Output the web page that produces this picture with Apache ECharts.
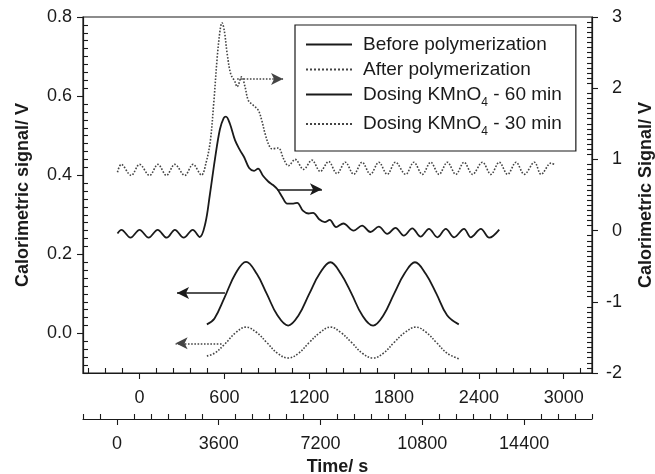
<!DOCTYPE html>
<html><head><meta charset="utf-8">
<script src="https://cdn.jsdelivr.net/npm/echarts@6/dist/echarts.min.js"></script>
<style>html,body{margin:0;padding:0;background:#fff}#c{width:655px;height:474px}</style>
</head><body><div id="c"></div>
<script>
const seriesNames = ['Before polymerization', 'After polymerization', 'Dosing KMnO4 - 60 min', 'Dosing KMnO4 - 30 min'];
const topTickLabels = [0, 600, 1200, 1800, 2400, 3000];
const bottomTickLabels = [0, 3600, 7200, 10800, 14400];
const leftTickLabels = [0, 0.2, 0.4, 0.6, 0.8];
const rightTickLabels = [-2, -1, 0, 1, 2, 3];

// right axis (Calorimetric Signal / V)
const beforePolymerization = [
  [-156, -0.04], [-128, 0.01], [-64, -0.10], [0, 0.01], [64, -0.10], [128, 0.01], [192, -0.10],
  [250, 0.01], [312, -0.10], [376, 0.01], [426, -0.09], [465, 0.10], [497, 0.50], [533, 1.00],
  [568, 1.42], [595, 1.58], [611, 1.60], [639, 1.50], [675, 1.27], [710, 1.13], [740, 1.03],
  [775, 0.88], [810, 0.84], [838, 0.87], [873, 0.77], [910, 0.69], [944, 0.64], [975, 0.58],
  [1010, 0.47], [1044, 0.38], [1087, 0.38], [1115, 0.39], [1155, 0.28], [1195, 0.24], [1228, 0.25],
  [1270, 0.16], [1310, 0.12], [1345, 0.15], [1390, 0.05], [1441, 0.10], [1514, 0.00], [1574, 0.07],
  [1633, -0.02], [1692, 0.056], [1752, -0.046], [1810, 0.038], [1869, -0.07], [1929, 0.032],
  [1988, -0.085], [2047, 0.024], [2107, -0.094], [2166, 0.024], [2224, -0.094], [2295, 0.024],
  [2343, -0.094], [2414, 0.024], [2473, -0.10], [2544, 0.014]
];
const afterPolymerization = [
  [-156, 0.82], [-130, 0.93], [-59, 0.775], [0, 0.93], [71, 0.775], [130, 0.93], [190, 0.775],
  [249, 0.93], [320, 0.775], [378, 0.93], [438, 0.78], [470, 0.95], [500, 1.25], [525, 1.80],
  [550, 2.45], [570, 2.82], [583, 2.92], [600, 2.80], [620, 2.48], [645, 2.20], [675, 2.09],
  [690, 2.02], [722, 2.16], [746, 2.02], [769, 1.83], [804, 1.76], [840, 1.69], [864, 1.55],
  [888, 1.36], [911, 1.22], [935, 1.15], [982, 1.16], [1018, 1.01], [1053, 0.91], [1100, 1.00],
  [1160, 0.86], [1219, 0.99], [1278, 0.83], [1337, 0.97], [1396, 0.80], [1455, 0.96], [1515, 0.79],
  [1574, 0.96], [1633, 0.79], [1692, 0.96], [1752, 0.79], [1810, 0.96], [1882, 0.79], [1940, 0.96],
  [2000, 0.79], [2059, 0.96], [2118, 0.79], [2177, 0.96], [2237, 0.79], [2295, 0.96], [2355, 0.79],
  [2425, 0.96], [2485, 0.79], [2544, 0.96], [2603, 0.79], [2663, 0.96], [2721, 0.79], [2793, 0.96],
  [2840, 0.79], [2911, 0.95], [2932, 0.93]
];
// left axis (Calorimetric signal / V)
const dosing60 = [
  [476, 0.023], [530, 0.038], [600, 0.090], [680, 0.152], [753, 0.181], [830, 0.150], [900, 0.100],
  [975, 0.046], [1051, 0.020], [1125, 0.046], [1200, 0.100], [1275, 0.152], [1350, 0.180],
  [1425, 0.150], [1500, 0.100], [1575, 0.046], [1652, 0.020], [1725, 0.046], [1800, 0.100],
  [1875, 0.152], [1948, 0.180], [2025, 0.150], [2100, 0.100], [2175, 0.046], [2258, 0.023]
];
const dosing30 = [
  [476, -0.057], [530, -0.050], [600, -0.028], [680, 0.002], [753, 0.016], [830, 0.002], [900, -0.023],
  [975, -0.050], [1051, -0.062], [1125, -0.050], [1200, -0.023], [1275, 0.002], [1350, 0.016],
  [1425, 0.002], [1500, -0.023], [1575, -0.050], [1652, -0.062], [1725, -0.050], [1800, -0.023],
  [1875, 0.002], [1955, 0.016], [2030, 0.002], [2100, -0.023], [2175, -0.050], [2258, -0.064]
];
// annotation arrows: [start, end]
const arrowBefore = [[975, 0.58], [1290, 0.58]];
const arrowAfter = [[690, 2.13], [1015, 2.13]];
const arrow60 = [[604, 0.102], [265, 0.102]];
const arrow30 = [[580, -0.025], [255, -0.025]];

const FONT = 'Liberation Sans, Arial, Helvetica, sans-serif';
const INK = '#1a1a1a';

function minorTicks(iFrom, iTo, step, div, every) {
  const out = [];
  for (let i = iFrom; i <= iTo; i++) { if (i % every !== 0) out.push(i * step / div); }
  return out;
}
const topMinor = minorTicks(-3, 26, 120, 1, 5);
const bottomMinor = minorTicks(-2, 28, 600, 1, 6);
const leftMinor = minorTicks(-5, 40, 2, 100, 10);
const rightMinor = minorTicks(-28, 42, 1, 14, 14);

const lineAxis = { show: true, onZero: false, lineStyle: { color: INK, width: 1.2 } };
const tickStyle = { color: INK, width: 1.1 };
const labelBase = { fontSize: 18, color: INK, fontFamily: FONT };

function majorX(min, max, ticks, offset, extra) {
  return Object.assign({
    type: 'value', min: min, max: max, position: 'bottom', offset: offset,
    axisLine: lineAxis, splitLine: { show: false },
    axisTick: { show: true, customValues: ticks, length: 6, lineStyle: tickStyle },
    axisLabel: Object.assign({ customValues: ticks, margin: 16, formatter: v => String(v) }, labelBase)
  }, extra || {});
}
function minorX(min, max, ticks, offset) {
  return {
    type: 'value', min: min, max: max, position: 'bottom', offset: offset,
    axisLine: { show: false, onZero: false }, splitLine: { show: false },
    axisTick: { show: true, inside: true, customValues: ticks, length: 5, lineStyle: tickStyle },
    axisLabel: { show: false }
  };
}
function minorY(min, max, ticks, pos) {
  return {
    type: 'value', min: min, max: max, position: pos,
    axisLine: { show: false, onZero: false }, splitLine: { show: false },
    axisTick: { show: true, inside: true, customValues: ticks, length: 5, lineStyle: tickStyle },
    axisLabel: { show: false }
  };
}
function arrowLine(pts, type) {
  return {
    silent: true, animation: false, symbol: ['none', 'arrow'], symbolSize: [9, 12],
    label: { show: false },
    lineStyle: { color: type === 'dotted' ? '#444' : INK, width: 1.6, type: type },
    itemStyle: { color: type === 'dotted' ? '#555' : INK },
    data: [[{ coord: pts[0] }, { coord: pts[1] }]]
  };
}

const chart = echarts.init(document.getElementById('c'), null, { renderer: 'canvas' });
chart.setOption({
  animation: false,
  backgroundColor: '#fff',
  grid: { left: 83, top: 17, width: 509, height: 356, show: true, borderColor: INK, borderWidth: 1.2,
    backgroundColor: 'transparent', containLabel: false, outerBoundsMode: 'none' },
  legend: {
    data: seriesNames, orient: 'vertical', left: 295, top: 25,
    padding: [10, 14, 13, 10], borderColor: INK, borderWidth: 1.2,
    itemWidth: 46, itemHeight: 12, itemGap: 6,
    itemStyle: { opacity: 0 },
    formatter: n => n.replace('KMnO4', 'KMnO{sub|4}'),
    textStyle: {
      fontSize: 19, color: INK, fontFamily: FONT, padding: [0, 0, 0, 6],
      rich: { sub: { fontSize: 12, fontFamily: FONT, color: INK, padding: [16, 0, 0, 0] } }
    }
  },
  xAxis: [
    majorX(-400, 3200, topTickLabels, 0),
    minorX(-400, 3200, topMinor, 0),
    majorX(-1200, 16800, bottomTickLabels, 46, {
      name: 'Time/ s', nameLocation: 'middle', nameGap: 38,
      nameTextStyle: { fontSize: 18, fontWeight: 'bold', color: INK, fontFamily: FONT }
    }),
    minorX(-1200, 16800, bottomMinor, 46)
  ],
  yAxis: [
    {
      type: 'value', min: -0.1, max: 0.8, position: 'left',
      axisLine: lineAxis, splitLine: { show: false },
      axisTick: { show: true, customValues: leftTickLabels, length: 6, lineStyle: tickStyle },
      axisLabel: Object.assign({ customValues: leftTickLabels, margin: 11, formatter: v => v.toFixed(1) }, labelBase),
      name: 'Calorimetric signal/ V', nameLocation: 'middle', nameGap: 51, nameRotate: 90,
      nameTextStyle: { fontSize: 18, fontWeight: 'bold', color: INK, fontFamily: FONT }
    },
    minorY(-0.1, 0.8, leftMinor, 'left'),
    {
      type: 'value', min: -2, max: 3, position: 'right',
      axisLine: lineAxis, splitLine: { show: false },
      axisTick: { show: true, customValues: rightTickLabels, length: 6, lineStyle: tickStyle },
      axisLabel: Object.assign({ customValues: rightTickLabels, margin: 30, align: 'right', formatter: v => String(v) }, labelBase),
      name: 'Calorimetric Signal/ V', nameLocation: 'middle', nameGap: 45, nameRotate: 90,
      nameTextStyle: { fontSize: 18, fontWeight: 'bold', color: INK, fontFamily: FONT }
    },
    minorY(-2, 3, rightMinor, 'right')
  ],
  series: [
    { name: seriesNames[0], type: 'line', xAxisIndex: 0, yAxisIndex: 2, data: beforePolymerization,
      symbol: 'none', smooth: 0.35, lineStyle: { color: INK, width: 1.8, type: 'solid' }, itemStyle: { color: INK },
      markLine: arrowLine(arrowBefore, 'solid') },
    { name: seriesNames[1], type: 'line', xAxisIndex: 0, yAxisIndex: 2, data: afterPolymerization,
      symbol: 'none', smooth: 0.35, lineStyle: { color: '#444', width: 1.6, type: 'dotted' }, itemStyle: { color: '#444' },
      markLine: arrowLine(arrowAfter, 'dotted') },
    { name: seriesNames[2], type: 'line', xAxisIndex: 0, yAxisIndex: 0, data: dosing60,
      symbol: 'none', smooth: 0.4, lineStyle: { color: INK, width: 1.8, type: 'solid' }, itemStyle: { color: INK },
      markLine: arrowLine(arrow60, 'solid') },
    { name: seriesNames[3], type: 'line', xAxisIndex: 0, yAxisIndex: 0, data: dosing30,
      symbol: 'none', smooth: 0.4, lineStyle: { color: '#444', width: 1.6, type: 'dotted' }, itemStyle: { color: '#444' },
      markLine: arrowLine(arrow30, 'dotted') }
  ]
});
</script>
</body></html>
